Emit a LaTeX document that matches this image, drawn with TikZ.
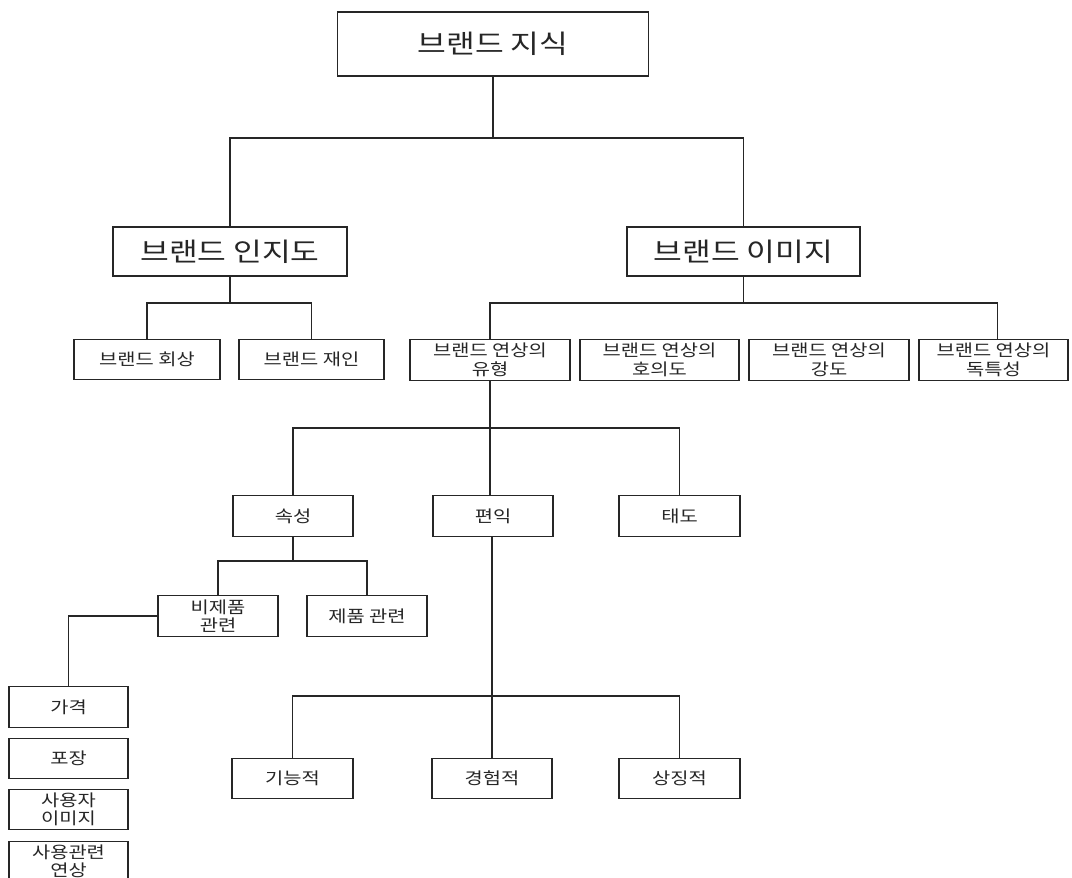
\documentclass[tikz,border=0pt]{standalone}
\usepackage{fontspec}
\newfontfamily\krfont[FakeStretch=1.2]{Noto Sans CJK KR}
\begin{document}
\begin{tikzpicture}[x=1pt,y=-1pt,
        box/.style={draw=black!85, line width=1.3pt, inner sep=0pt, align=center, text=black!85},
        bigbox/.style={box, font=\krfont\fontsize{26}{30}\selectfont},
        smallbox/.style={box, font=\krfont\fontsize{16.5}{18.5}\selectfont, minimum height=40.5pt},
        link/.style={draw=black!85, line width=1.3pt}]
    \path[use as bounding box, clip] (0,0) rectangle (1072,878);
    % top levels
    \node[bigbox, minimum width=311pt, minimum height=64pt] (know) at (493,44) {브랜드 지식};
    \node[bigbox, minimum width=234pt, minimum height=49pt] (aware) at (230,251.5) {브랜드 인지도};
    \node[bigbox, minimum width=233pt, minimum height=49pt] (image) at (743.5,251.5) {브랜드 이미지};
    % awareness
    \node[smallbox, minimum width=146pt] (recall) at (147,359.5) {브랜드 회상};
    \node[smallbox, minimum width=145pt] (recog) at (311.5,359.5) {브랜드 재인};
    % image
    \node[smallbox, minimum width=160pt] (type) at (490,360) {브랜드 연상의\\유형};
    \node[smallbox, minimum width=159pt] (favor) at (659.5,360) {브랜드 연상의\\호의도};
    \node[smallbox, minimum width=160pt] (strength) at (829,360) {브랜드 연상의\\강도};
    \node[smallbox, minimum width=149pt] (unique) at (993.5,360) {브랜드 연상의\\독특성};
    % type
    \node[smallbox, minimum width=120pt] (attr) at (293,516) {속성};
    \node[smallbox, minimum width=120pt] (benefit) at (493,516) {편익};
    \node[smallbox, minimum width=121pt] (attitude) at (679.5,516) {태도};
    \node[smallbox, minimum width=120pt] (nonprod) at (218,616) {비제품\\관련};
    \node[smallbox, minimum width=120pt] (prod) at (367,616) {제품 관련};
    \node[smallbox, minimum width=119pt] (price) at (68.5,707) {가격};
    \node[smallbox, minimum width=119pt] (pack) at (68.5,758.5) {포장};
    \node[smallbox, minimum width=119pt] (user) at (68.5,809.5) {사용자\\이미지};
    \node[smallbox, minimum width=119pt] (usage) at (68.5,861.5) {사용관련\\연상};
    \node[smallbox, minimum width=121pt] (func) at (292.5,778.5) {기능적};
    \node[smallbox, minimum width=120pt] (exper) at (492,778.5) {경험적};
    \node[smallbox, minimum width=121pt] (symb) at (679.5,778.5) {상징적};
    % junctions
    \coordinate (j1) at (493,138);
    \coordinate (j2) at (230,303);
    \coordinate (j3) at (743.5,303);
    \coordinate (j4) at (490,428);
    \coordinate (j5) at (293,561);
    \coordinate (j6) at (492,696);
    % connectors
    \draw[link] (know.south) -- (j1) -| (aware.north);
    \draw[link] (j1) -| (image.north);
    \draw[link] (aware.south) -- (j2) -| (recall.north);
    \draw[link] (j2) -| (recog.north);
    \draw[link] (image.south) -- (j3) -| (type.north);
    \draw[link] (j3) -| ([xshift=4pt]unique.north);
    \draw[link] (type.south) -- (j4) -| (attr.north);
    \draw[link] (j4) -| (attitude.north);
    \draw[link] (j4) -- (j4 |- benefit.north);
    \draw[link] (attr.south) -- (j5) -| (nonprod.north);
    \draw[link] (j5) -| (prod.north);
    \draw[link] (nonprod.west) -| (price.north);
    \draw[link] (benefit.south -| j6) -- (j6) -| (func.north);
    \draw[link] (j6) -| (symb.north);
    \draw[link] (j6) -- (exper.north);
\end{tikzpicture}
\end{document}
